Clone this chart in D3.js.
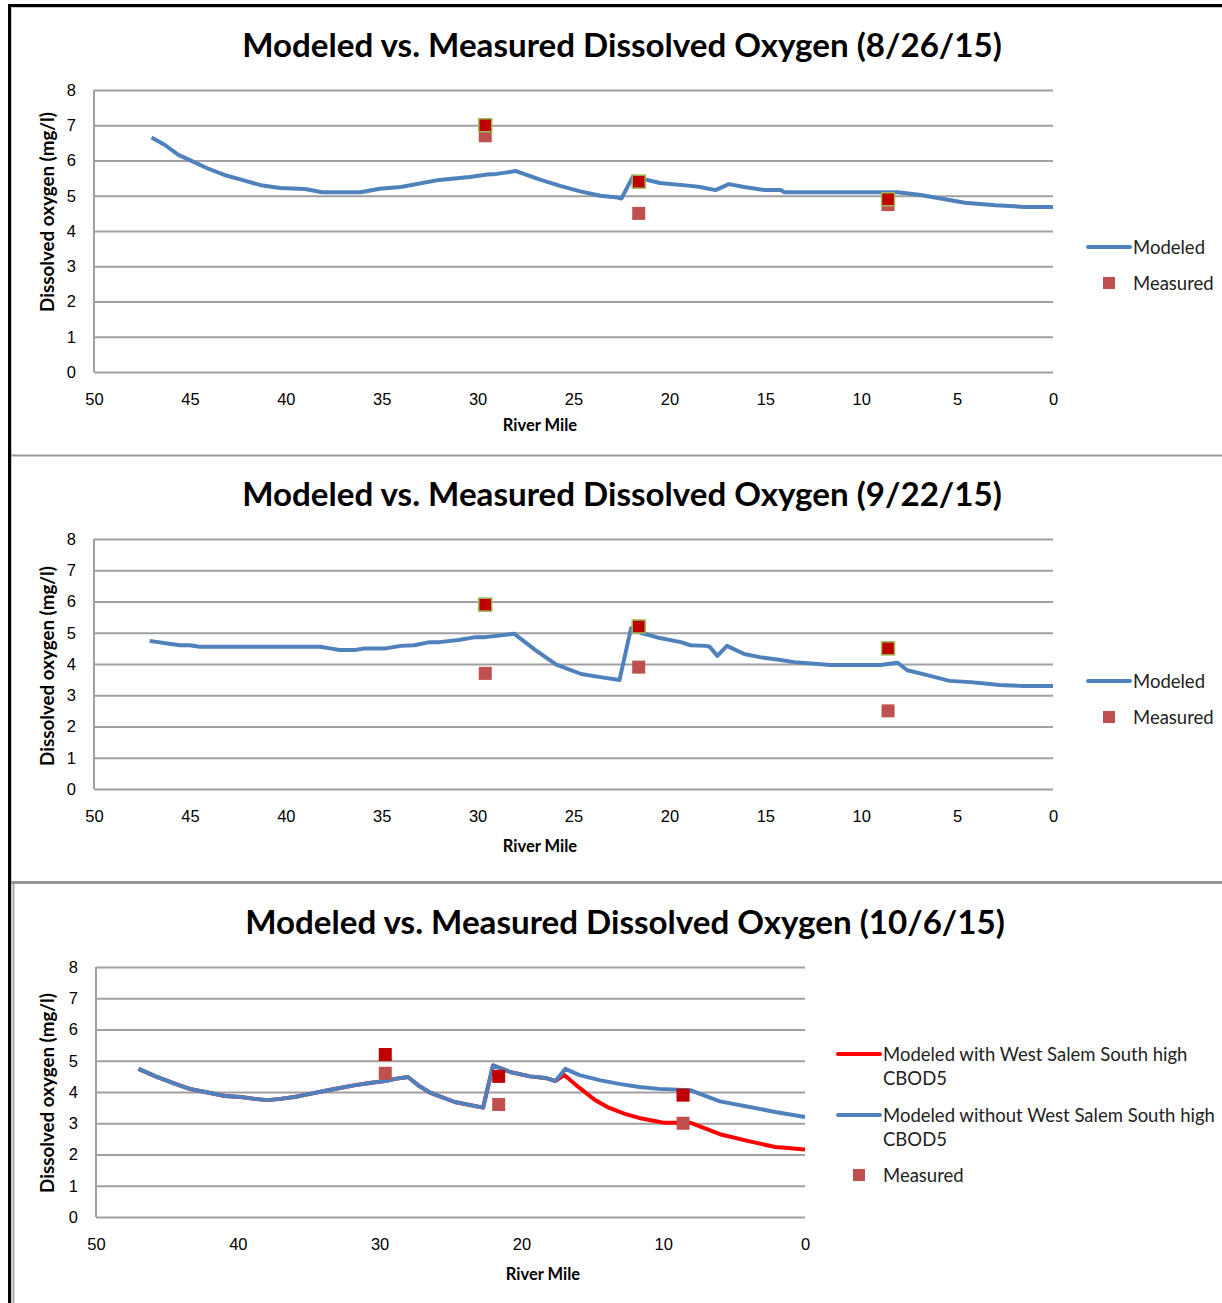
<!DOCTYPE html>
<html>
<head>
<meta charset="utf-8">
<script src="https://cdn.jsdelivr.net/npm/d3@7"></script>
<style>
  body { margin: 0; background: #fff; }
  svg { display: block; font-family: Lato, 'Open Sans', sans-serif; }
</style>
</head>
<body>
<script>
// ===================================================================
// Data, as [river mile, DO mg/l]

const X_TICKS_WIDE = [50, 45, 40, 35, 30, 25, 20, 15, 10, 5, 0]
const X_TICKS_NARROW = [50, 40, 30, 20, 10, 0]
const Y_TICKS = [0, 1, 2, 3, 4, 5, 6, 7, 8]

const MODELED_0826 = [
  [47.0, 6.65], [46.3, 6.44], [45.6, 6.16], [45.0, 6.01], [44.1, 5.78], [43.2, 5.59],
  [42.1, 5.42], [41.3, 5.30], [40.3, 5.22], [39.0, 5.19], [38.1, 5.10], [36.1, 5.10],
  [35.1, 5.20], [34.0, 5.25], [32.0, 5.45], [30.4, 5.53], [29.5, 5.60], [29.0, 5.62],
  [28.0, 5.70], [26.7, 5.45], [25.7, 5.28], [24.7, 5.13], [23.6, 5.00], [22.7, 4.95],
  [22.5, 4.92], [21.9, 5.55], [20.5, 5.36], [18.9, 5.28], [18.4, 5.25], [17.6, 5.16],
  [16.9, 5.33], [16.1, 5.25], [15.0, 5.16], [14.2, 5.16], [14.0, 5.10], [9.0, 5.10],
  [8.1, 5.10], [6.9, 5.02], [4.6, 4.80], [3.0, 4.73], [2.0, 4.70], [1.5, 4.68], [0, 4.68]
]
const MEASURED_0826 = [[29.6, 6.7], [21.6, 4.5], [8.6, 4.75]]
const SAMPLED_0826 = [[29.6, 7.0], [21.6, 5.4], [8.6, 4.9]]

const MODELED_0922 = [
  [47.1, 4.74], [46.0, 4.64], [45.5, 4.60], [45.0, 4.60], [44.5, 4.55], [38.2, 4.55],
  [37.7, 4.50], [37.2, 4.45], [36.4, 4.45], [35.9, 4.50], [34.8, 4.50], [34.0, 4.58],
  [33.3, 4.60], [32.5, 4.70], [32.0, 4.70], [31.0, 4.77], [30.1, 4.86], [29.6, 4.86],
  [29.0, 4.90], [28.1, 4.97], [27.0, 4.45], [25.9, 3.98], [24.6, 3.68], [23.6, 3.58],
  [22.6, 3.49], [22.0, 5.15], [21.5, 5.00], [20.5, 4.83], [19.4, 4.70], [18.9, 4.60],
  [18.1, 4.58], [17.9, 4.55], [17.5, 4.26], [17.0, 4.58], [16.1, 4.32], [15.3, 4.22],
  [14.2, 4.13], [13.5, 4.06], [11.6, 3.97], [9.0, 3.97], [8.1, 4.04], [7.6, 3.80],
  [6.4, 3.62], [5.4, 3.46], [4.3, 3.42], [3.3, 3.36], [2.8, 3.33], [1.7, 3.30], [0, 3.30]
]
const MEASURED_0922 = [[29.6, 3.7], [21.6, 3.9], [8.6, 2.5]]
const SAMPLED_0922 = [[29.6, 5.9], [21.6, 5.2], [8.6, 4.5]]

const WITHOUT_1006 = [
  [47.0, 4.74], [45.8, 4.50], [44.4, 4.26], [43.4, 4.10], [42.3, 4.00], [40.9, 3.87],
  [39.8, 3.84], [38.8, 3.78], [37.9, 3.74], [37.0, 3.78], [36.0, 3.84], [34.9, 3.94],
  [33.9, 4.03], [32.8, 4.13], [31.7, 4.22], [30.7, 4.29], [29.6, 4.35], [28.9, 4.42],
  [28.0, 4.48], [27.2, 4.19], [26.4, 3.97], [24.7, 3.68], [22.7, 3.50], [22.0, 4.85],
  [20.8, 4.64], [19.4, 4.50], [18.3, 4.45], [17.6, 4.35], [16.9, 4.74], [15.9, 4.54],
  [14.5, 4.38], [13.1, 4.26], [11.7, 4.16], [10.3, 4.10], [8.1, 4.06], [6.0, 3.70],
  [3.9, 3.52], [2.1, 3.36], [0, 3.20]
]
const WITH_1006 = [
  [47.0, 4.74], [45.8, 4.50], [44.4, 4.26], [43.4, 4.10], [42.3, 4.00], [40.9, 3.87],
  [39.8, 3.84], [38.8, 3.78], [37.9, 3.74], [37.0, 3.78], [36.0, 3.84], [34.9, 3.94],
  [33.9, 4.03], [32.8, 4.13], [31.7, 4.22], [30.7, 4.29], [29.6, 4.35], [28.9, 4.42],
  [28.0, 4.48], [27.2, 4.19], [26.4, 3.97], [24.7, 3.68], [22.7, 3.50], [22.0, 4.85],
  [20.8, 4.64], [19.4, 4.50], [18.3, 4.45], [17.6, 4.35], [17.0, 4.55], [15.9, 4.13],
  [14.8, 3.74], [13.8, 3.49], [12.7, 3.30], [11.7, 3.17], [10.6, 3.07], [10.0, 3.02],
  [8.1, 3.02], [6.0, 2.65], [3.9, 2.42], [2.1, 2.24], [1.0, 2.20], [0, 2.16]
]
const MEASURED_1006 = [[29.6, 4.6], [21.6, 3.6], [8.6, 3.0]]
const SAMPLED_1006 = [[29.6, 5.2], [21.6, 4.5], [8.6, 3.9]]

// ===================================================================

const WIDTH = 1222
const HEIGHT = 1303

const BLUE = '#4f81bd'
const RED = '#ff0000'
const MEASURED_FILL = '#c0504d'
const SAMPLED_FILL = '#c00000'
const GRID = '#a0a0a0'
const TEXT = '#000'

const PANELS = [
  {
    title: 'Modeled vs. Measured Dissolved Oxygen (8/26/15)',
    titleX: 622, titleY: 44,
    x0: 94, x1: 1053, yTop: 90, yBottom: 372,
    xTicks: X_TICKS_WIDE,
    xLabelX: 540, xLabelY: 425,
    yLabelY: 212,
    lines: [{ data: MODELED_0826, color: BLUE, label: ['Modeled'] }],
    measured: MEASURED_0826,
    sampled: SAMPLED_0826,
    sampledStroke: '#9bbb59',
    legendX: 1088, legendY: [247, 283]
  },
  {
    title: 'Modeled vs. Measured Dissolved Oxygen (9/22/15)',
    titleX: 622, titleY: 493,
    x0: 94, x1: 1053, yTop: 539, yBottom: 789,
    xTicks: X_TICKS_WIDE,
    xLabelX: 540, xLabelY: 846,
    yLabelY: 666,
    lines: [{ data: MODELED_0922, color: BLUE, label: ['Modeled'] }],
    measured: MEASURED_0922,
    sampled: SAMPLED_0922,
    sampledStroke: '#9bbb59',
    legendX: 1088, legendY: [681, 717]
  },
  {
    title: 'Modeled vs. Measured Dissolved Oxygen (10/6/15)',
    titleX: 625, titleY: 921,
    x0: 96, x1: 805, yTop: 967, yBottom: 1217,
    xTicks: X_TICKS_NARROW,
    xLabelX: 543, xLabelY: 1274,
    yLabelY: 1093,
    lines: [
      { data: WITH_1006, color: RED, label: ['Modeled with West Salem South high', 'CBOD5'] },
      { data: WITHOUT_1006, color: BLUE, label: ['Modeled without West Salem South high', 'CBOD5'] }
    ],
    measured: MEASURED_1006,
    sampled: SAMPLED_1006,
    sampledStroke: 'none',
    legendX: 838, legendY: [1054, 1115, 1175]
  }
]

// ===================================================================

const svg = d3.select('body')
  .append('svg')
    .attr('width', WIDTH)
    .attr('height', HEIGHT)

// Frames round the three pasted charts.
const frames = svg.append('g')
frames.append('rect').attr('x', 8).attr('y', 4).attr('width', 3).attr('height', HEIGHT).attr('fill', '#000')
frames.append('rect').attr('x', 8).attr('y', 4).attr('width', WIDTH).attr('height', 3).attr('fill', '#000')
frames.append('line').attr('x1', 11.5).attr('x2', 11.5).attr('y1', 7).attr('y2', HEIGHT).attr('stroke', '#c8c8c8')
frames.append('line').attr('x1', 11).attr('x2', WIDTH).attr('y1', 7.5).attr('y2', 7.5).attr('stroke', '#c8c8c8')
frames.append('line').attr('x1', 11).attr('x2', WIDTH).attr('y1', 455.5).attr('y2', 455.5)
  .attr('stroke', '#9a9a9a').attr('stroke-width', 2)
frames.append('line').attr('x1', 11).attr('x2', WIDTH).attr('y1', 882.5).attr('y2', 882.5)
  .attr('stroke', '#959595').attr('stroke-width', 3)
frames.append('line').attr('x1', 13.5).attr('x2', 13.5).attr('y1', 884).attr('y2', HEIGHT)
  .attr('stroke', '#a8a8a8').attr('stroke-width', 2)

const fitText = (sel, width) => {
  const size = parseFloat(sel.attr('font-size'))
  const w = sel.node().getComputedTextLength()
  sel.attr('font-size', (size * width / w).toFixed(2))
}

const LEGEND_FONT = 18.5

const drawPanel = p => {
  const x = d3.scaleLinear().domain([50, 0]).range([p.x0, p.x1])
  const y = d3.scaleLinear().domain([0, 8]).range([p.yBottom, p.yTop])

  const g = svg.append('g')

  // Title
  g.append('text')
    .attr('x', p.titleX)
    .attr('y', p.titleY)
    .attr('text-anchor', 'middle')
    .attr('dominant-baseline', 'central')
    .attr('font-weight', 'bold')
    .attr('font-size', 32)
    .attr('fill', TEXT)
    .text(p.title)
    .call(fitText, 760)

  // Gridlines + axes
  g.append('g')
    .attr('transform', `translate(${p.x0}, 0)`)
    .call(d3.axisLeft(y).tickValues(Y_TICKS).tickSize(-(p.x1 - p.x0)).tickPadding(18))
    .call(a => a.select('.domain').remove())
    .call(a => a.selectAll('line').attr('stroke', GRID).attr('stroke-width', 2))
    .call(a => a.selectAll('text').attr('font-size', 16.5).attr('font-family', null).attr('fill', TEXT))

  g.append('line')
    .attr('x1', p.x0).attr('x2', p.x0)
    .attr('y1', p.yTop).attr('y2', p.yBottom)
    .attr('stroke', GRID).attr('stroke-width', 2)

  g.append('g')
    .attr('transform', `translate(0, ${p.yBottom})`)
    .call(d3.axisBottom(x).tickValues(p.xTicks).tickSize(0).tickPadding(21))
    .call(a => a.select('.domain').remove())
    .call(a => a.selectAll('text').attr('font-size', 16.5).attr('font-family', null).attr('fill', TEXT))

  // Axis titles
  g.append('text')
    .attr('x', p.xLabelX)
    .attr('y', p.xLabelY)
    .attr('text-anchor', 'middle')
    .attr('dominant-baseline', 'central')
    .attr('font-weight', 'bold')
    .attr('font-size', 16.5)
    .attr('fill', TEXT)
    .text('River Mile')

  g.append('text')
    .attr('transform', `translate(54, ${p.yLabelY}) rotate(-90)`)
    .attr('text-anchor', 'middle')
    .attr('font-weight', 'bold')
    .attr('font-size', 16)
    .attr('fill', TEXT)
    .text('Dissolved oxygen (mg/l)')
    .call(fitText, 200)

  // Lines
  const line = d3.line()
    .x(d => x(d[0]))
    .y(d => y(d[1]))

  p.lines.forEach(l => {
    g.append('path')
      .datum(l.data)
      .attr('d', line)
      .attr('fill', 'none')
      .attr('stroke', l.color)
      .attr('stroke-width', 4)
      .attr('stroke-linejoin', 'round')
  })

  // Markers
  const SIZE = 13
  g.append('g').selectAll('rect')
    .data(p.measured)
    .join('rect')
      .attr('x', d => x(d[0]) - SIZE / 2)
      .attr('y', d => y(d[1]) - SIZE / 2)
      .attr('width', SIZE)
      .attr('height', SIZE)
      .attr('fill', MEASURED_FILL)

  g.append('g').selectAll('rect')
    .data(p.sampled)
    .join('rect')
      .attr('x', d => x(d[0]) - SIZE / 2)
      .attr('y', d => y(d[1]) - SIZE / 2)
      .attr('width', SIZE)
      .attr('height', SIZE)
      .attr('fill', SAMPLED_FILL)
      .attr('stroke', p.sampledStroke)
      .attr('stroke-width', 1.5)

  // Legend
  const legend = g.append('g')
  p.lines.forEach((l, i) => {
    const ly = p.legendY[i]
    legend.append('line')
      .attr('x1', p.legendX).attr('x2', p.legendX + 42)
      .attr('y1', ly).attr('y2', ly)
      .attr('stroke', l.color).attr('stroke-width', 4).attr('stroke-linecap', 'round')
    l.label.forEach((s, j) => {
      legend.append('text')
        .attr('x', p.legendX + 45)
        .attr('y', ly + j * 24)
        .attr('dominant-baseline', 'central')
        .attr('font-size', LEGEND_FONT)
        .attr('fill', '#222')
        .text(s)
    })
  })
  const my = p.legendY[p.lines.length]
  legend.append('rect')
    .attr('x', p.legendX + 15).attr('y', my - 6)
    .attr('width', 12).attr('height', 12)
    .attr('fill', MEASURED_FILL)
  legend.append('text')
    .attr('x', p.legendX + 45)
    .attr('y', my)
    .attr('dominant-baseline', 'central')
    .attr('font-size', LEGEND_FONT)
    .attr('fill', '#222')
    .text('Measured')
}

PANELS.forEach(drawPanel)
</script>
</body>
</html>
